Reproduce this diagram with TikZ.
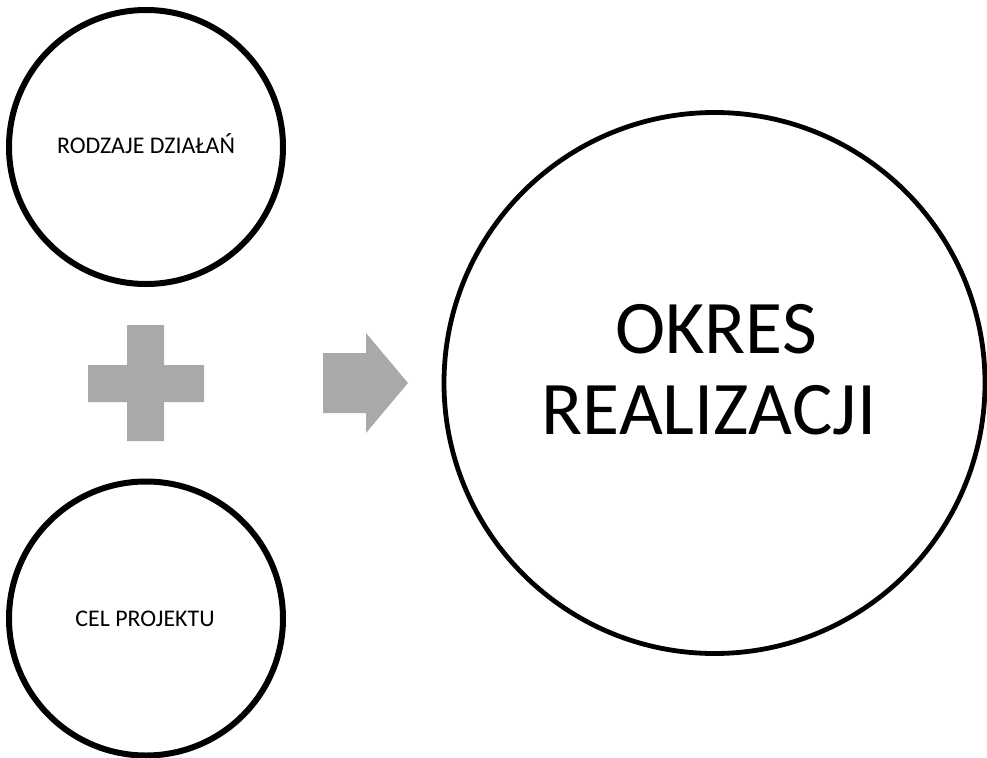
\documentclass[tikz,border=0pt]{standalone}
\usepackage{fontspec}
\setmainfont{Carlito}
\definecolor{shapegray}{HTML}{A9A9A9}
\begin{document}
\begin{tikzpicture}[x=1bp,y=-1bp,
  ring/.style={circle,draw=black,line width=6bp,minimum size=274bp,inner sep=0pt},
  bigring/.style={circle,draw=black,line width=4.8bp,minimum size=541bp,inner sep=0pt},
  smalltext/.style={anchor=base,font=\fontsize{24}{28}\selectfont,inner sep=0pt},
  bigtext/.style={anchor=base,font=\fontsize{76}{81}\selectfont,inner sep=0pt},
  grayshape/.style={fill=shapegray,draw=none}]
\useasboundingbox (0,0) rectangle (987,758);
% circles
\node[ring] (c1) at (146,147) {};
\node[ring] (c2) at (146,618.5) {};
\node[bigring] (c3) at (714.5,383) {};
% texts
\node[smalltext] (t1) at (146,153) {RODZAJE DZIAŁAŃ};
\node[smalltext] (t2) at (145,626.5) {CEL PROJEKTU};
\node[bigtext] (t3) at (716,353) {OKRES};
\node[bigtext] (t4) at (709,434) {REALIZACJI};
% plus
\fill[grayshape] (88,365) -- (127,365) -- (127,325) -- (164,325) -- (164,365) -- (204,365)
  -- (204,402) -- (164,402) -- (164,441) -- (127,441) -- (127,402) -- (88,402) -- cycle;
% arrow
\fill[grayshape] (323,353) -- (366,353) -- (366,333) -- (408,383) -- (366,433)
  -- (366,413) -- (323,413) -- cycle;
\end{tikzpicture}
\end{document}
